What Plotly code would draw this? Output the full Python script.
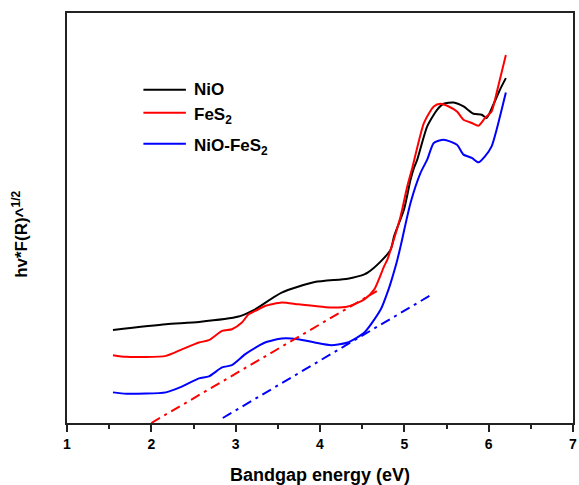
import plotly.graph_objects as go

# Photon energy (eV) and Tauc-type signal (a.u.) for each sample
nio_x = [1.545, 2.173, 2.565, 3.035, 3.153, 3.232, 3.545, 3.938, 4.329, 4.526, 4.565, 4.721,
         4.839, 4.879, 4.996, 5.074, 5.114, 5.153, 5.271, 5.388, 5.467, 5.585, 5.702, 5.820,
         5.918, 5.976, 6.055, 6.133, 6.204]
nio_y = [0.933, 0.990, 1.013, 1.067, 1.107, 1.140, 1.307, 1.413, 1.447, 1.490, 1.507, 1.620,
         1.740, 1.873, 2.140, 2.440, 2.557, 2.640, 2.973, 3.140, 3.200, 3.213, 3.173, 3.100,
         3.090, 3.057, 3.190, 3.340, 3.457]

fes2_x = [1.545, 1.702, 2.173, 2.368, 2.565, 2.682, 2.839, 2.956, 3.074, 3.153, 3.232, 3.349,
          3.545, 3.741, 4.133, 4.329, 4.526, 4.644, 4.761, 4.800, 4.839, 4.956, 5.035, 5.094,
          5.232, 5.349, 5.427, 5.526, 5.624, 5.702, 5.800, 5.879, 5.956, 6.035, 6.094, 6.204]
fes2_y = [0.680, 0.663, 0.673, 0.740, 0.807, 0.830, 0.923, 0.940, 1.007, 1.090, 1.123, 1.173,
          1.207, 1.190, 1.157, 1.167, 1.240, 1.340, 1.573, 1.640, 1.740, 2.073, 2.373, 2.557,
          3.007, 3.173, 3.200, 3.173, 3.123, 3.040, 3.007, 2.980, 3.057, 3.123, 3.307, 3.690]

comp_x = [1.545, 1.702, 2.173, 2.368, 2.565, 2.682, 2.839, 2.956, 3.114, 3.271, 3.349, 3.545,
          3.741, 3.938, 4.133, 4.329, 4.526, 4.721, 4.820, 4.839, 4.918, 4.956, 5.074, 5.192,
          5.271, 5.349, 5.467, 5.624, 5.702, 5.800, 5.879, 5.956, 6.035, 6.094, 6.204]
comp_y = [0.307, 0.293, 0.307, 0.367, 0.447, 0.467, 0.557, 0.580, 0.690, 0.773, 0.807, 0.847,
          0.840, 0.807, 0.780, 0.807, 0.907, 1.140, 1.357, 1.407, 1.640, 1.773, 2.207, 2.507,
          2.640, 2.807, 2.840, 2.790, 2.690, 2.657, 2.613, 2.673, 2.773, 2.940, 3.313]

# Linear extrapolations of the absorption edges
fes2_fit_x = [2.000, 4.674]
fes2_fit_y = [0.000, 1.323]
comp_fit_x = [2.847, 5.329]
comp_fit_y = [0.050, 1.290]

x_ticks = [1, 2, 3, 4, 5, 6, 7]
x_tick_labels = ["1", "2", "3", "4", "5", "6", "7"]

legend_names = ["NiO", "FeS<sub>2</sub>", "NiO-FeS<sub>2</sub>"]
colors = ["#000000", "#ff0000", "#0000ff"]

FONT = "Arial, Liberation Sans, sans-serif"

fig = go.Figure()
for xs, ys, c in [(nio_x, nio_y, colors[0]), (fes2_x, fes2_y, colors[1]), (comp_x, comp_y, colors[2])]:
    fig.add_trace(go.Scatter(x=xs, y=ys, mode="lines", line=dict(color=c, width=2, shape="spline", smoothing=0.6),
                             showlegend=False, hoverinfo="skip"))
for xs, ys, c in [(fes2_fit_x, fes2_fit_y, colors[1]), (comp_fit_x, comp_fit_y, colors[2])]:
    fig.add_trace(go.Scatter(x=xs, y=ys, mode="lines", line=dict(color=c, width=2, dash="10px,5px,3px,5px"),
                             showlegend=False, hoverinfo="skip"))

# Hand-placed key in the upper-left of the frame
key_y = [0.8127, 0.7567, 0.681]
key_text_y = [0.8127, 0.750, 0.674]
for name, c, yl, yt in zip(legend_names, colors, key_y, key_text_y):
    fig.add_shape(type="line", xref="paper", yref="paper", x0=0.151, x1=0.235, y0=yl, y1=yl,
                  line=dict(color=c, width=2))
    fig.add_annotation(xref="paper", yref="paper", x=0.247, y=yt, xanchor="left", yanchor="middle",
                       text=f"<b>{name}</b>", showarrow=False, font=dict(family=FONT, size=17, color="black"))

fig.add_annotation(xref="paper", yref="paper", x=-0.092, y=0.46, xanchor="center", yanchor="middle",
                   textangle=-90, text="<b>hv*F(R)^<sup>1/2</sup></b>", showarrow=False,
                   font=dict(family=FONT, size=17, color="black"))

fig.update_xaxes(range=[1, 7], tickmode="array", tickvals=x_ticks,
                 ticktext=[f"<b>{t}</b>" for t in x_tick_labels], ticklabeloverflow="allow",
                 ticks="outside", ticklen=7, tickwidth=2, tickcolor="#222",
                 showline=True, linewidth=2, linecolor="#222", mirror=True, showgrid=False, zeroline=False,
                 tickfont=dict(family=FONT, size=14, color="black"),
                 minor=dict(dtick=0.5, tick0=1, ticks="outside", ticklen=4, tickwidth=2, tickcolor="#222"),
                 title=dict(text="<b>Bandgap energy (eV)</b>", font=dict(family=FONT, size=18, color="black"),
                            standoff=19))
fig.update_yaxes(range=[0, 4.11], showticklabels=False, ticks="", showline=True, linewidth=2, linecolor="#222",
                 mirror=True, showgrid=False, zeroline=False)

fig.update_layout(width=579, height=485, margin=dict(l=67, r=2, t=13, b=61),
                  plot_bgcolor="white", paper_bgcolor="white", showlegend=False)

fig.write_html("out.html")
